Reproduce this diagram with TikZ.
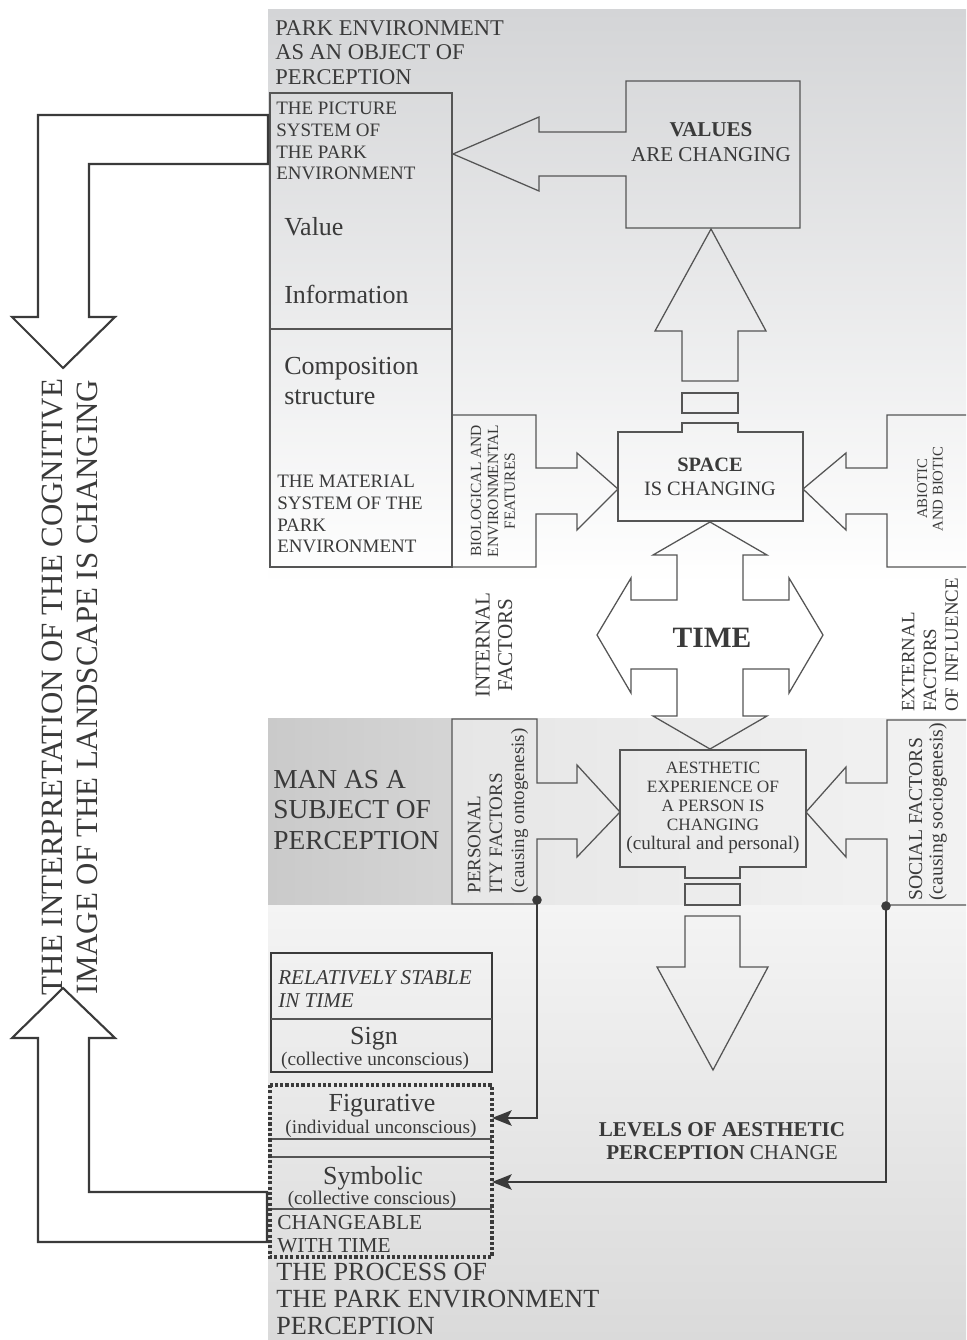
\documentclass[tikz,border=0pt]{standalone}
\usepackage{fontspec}
\setmainfont{Liberation Serif}
\usetikzlibrary{arrows.meta}
\newcommand\setfs[2]{\fontsize{#1}{#2}\selectfont}
\definecolor{ink}{HTML}{3A3A3A}
\definecolor{edge}{HTML}{555555}
\definecolor{bgtop}{HTML}{D4D5D7}
\definecolor{bgband}{HTML}{E6E6E6}
\definecolor{bgman}{HTML}{CACACA}
\definecolor{bgbottom}{HTML}{DADADA}
\begin{document}
\begin{tikzpicture}[x=0.025cm, y=-0.025cm,
  box/.style={draw=edge, line width=0.9pt},
  heavy/.style={draw=ink, line width=1.5pt},
  txt/.style={inner sep=0pt, text=ink},
  link/.style={draw=ink, line width=1.4pt, -{Stealth[length=14pt,width=11pt,inset=3pt]}}]
\useasboundingbox (0,0) rectangle (966,1340);
% background
\shade[top color=bgtop, bottom color=white] (268,10) rectangle (966,585);
\fill[white] (268,585) rectangle (966,718);
\shade[left color=bgband, right color=bgband!50!white] (452,718) rectangle (966,905);
\shade[left color=bgman, right color=bgman!80!white] (268,718) rectangle (452,905);
\shade[top color=bgbottom!30!white, bottom color=bgbottom] (268,905) rectangle (966,1340);

% park environment column
\draw[box] (270,93) rectangle (452,567);
\draw[box] (270,329) -- (452,329);

% values box with arrow to the left
\draw[box] (626,81) -- (800,81) -- (800,228) -- (626,228) -- (626,176) -- (539,176)
  -- (539,191) -- (453,154) -- (539,117) -- (539,132) -- (626,132) -- cycle;
\draw[box] (682,381) -- (682,331) -- (655,331) -- (711,229) -- (766,331) -- (738,331)
  -- (738,381) -- cycle;
\draw[box] (682,393) rectangle (738,413);

% space box
\draw[box] (618,432) -- (682,432) -- (682,423) -- (738,423) -- (738,432) -- (803,432)
  -- (803,521) -- (618,521) -- cycle;
\draw[box] (452,415) -- (536,415) -- (536,468) -- (577,468) -- (577,453) -- (618,489)
  -- (577,530) -- (577,514) -- (536,514) -- (536,567) -- (452,567);
\draw[box] (966,415) -- (887,415) -- (887,468) -- (846,468) -- (846,453) -- (803,489)
  -- (846,530) -- (846,514) -- (887,514) -- (887,567) -- (966,567);

% time
\draw[box] (710,522) -- (653,555) -- (677,555) -- (677,600) -- (631,600) -- (631,578)
  -- (597,635) -- (631,693) -- (631,669) -- (677,669) -- (677,716) -- (653,716)
  -- (710,749) -- (767,716) -- (743,716) -- (743,669) -- (789,669) -- (789,693)
  -- (823,635) -- (789,578) -- (789,600) -- (743,600) -- (743,555) -- (767,555) -- cycle;

% aesthetic experience box
\draw[box] (620,750) -- (806,750) -- (806,867) -- (740,867) -- (740,878) -- (685,878)
  -- (685,867) -- (620,867) -- cycle;
\draw[box] (452,719) -- (537,719) -- (537,783) -- (577,783) -- (577,765) -- (620,812)
  -- (577,857) -- (577,839) -- (537,839) -- (537,904) -- (452,904) -- cycle;
\draw[box] (966,720) -- (887,720) -- (887,783) -- (846,783) -- (846,767) -- (806,812)
  -- (846,857) -- (846,839) -- (887,839) -- (887,905) -- (966,905);
\draw[box] (685,884) rectangle (740,905);
\draw[box] (685,916) -- (740,916) -- (740,967) -- (768,967) -- (713,1070) -- (657,967)
  -- (685,967) -- cycle;

% levels of perception
\draw[draw=ink, line width=1.7pt] (271,953) rectangle (492,1072);
\draw[box] (271,1019) -- (492,1019);
\draw[box] (270,1139) -- (492,1139);
\draw[box] (270,1157) -- (492,1157);
\draw[box] (270,1209) -- (492,1209);
\draw[draw=ink, line width=2.2pt, dash pattern=on 2.2pt off 1.6pt] (270,1085) rectangle (492,1257);

% big return arrow
\draw[heavy] (268,115) -- (38,115) -- (38,317) -- (12,317) -- (63,368) -- (115,317)
  -- (89,317) -- (89,164) -- (268,164) -- cycle;
\draw[heavy] (267,1192) -- (89,1192) -- (89,1038) -- (115,1038) -- (63,988) -- (12,1038)
  -- (38,1038) -- (38,1242) -- (267,1242) -- cycle;

% texts
\node[txt, anchor=north west, align=left, font=\setfs{16}{17.4}] (objtitle) at (275,20)
  {PARK ENVIRONMENT\\AS AN OBJECT OF\\PERCEPTION};
\node[txt, anchor=north west, align=left, font=\setfs{13.5}{15.4}] (picsys) at (276,102)
  {THE PICTURE\\SYSTEM OF\\THE PARK\\ENVIRONMENT};
\node[txt, anchor=west, font=\setfs{18.5}{22}] (value) at (284,227) {Value};
\node[txt, anchor=west, font=\setfs{18.5}{22}] (info) at (284,294) {Information};
\node[txt, anchor=west, align=left, font=\setfs{18.5}{22}] (compos) at (284,381)
  {Composition\\structure};
\node[txt, anchor=north west, align=left, font=\setfs{13.5}{15.4}] (matsys) at (277,475)
  {THE MATERIAL\\SYSTEM OF THE\\PARK\\ENVIRONMENT};
\node[txt, align=center, font=\setfs{15}{17.7}] (values) at (711,142)
  {\textbf{VALUES}\\ARE CHANGING};
\node[txt, align=center, font=\setfs{14.5}{17}] (space) at (710,477)
  {\textbf{SPACE}\\IS CHANGING};
\node[txt, font=\setfs{21}{24}\bfseries] (time) at (712,638) {TIME};
\node[txt, align=center, font=\setfs{12.3}{13.5}] (aesth) at (713,808)
  {AESTHETIC\\EXPERIENCE OF\\A PERSON IS\\CHANGING\\{\setfs{13.6}{15}(cultural and personal)}};
\node[txt, anchor=west, align=left, font=\setfs{19.5}{22}] (man) at (273,810)
  {MAN AS A\\SUBJECT OF\\PERCEPTION};
\node[txt, align=center, font=\setfs{15}{16.3}] (levels) at (722,1141)
  {\textbf{LEVELS OF AESTHETIC}\\\textbf{PERCEPTION} CHANGE};

\node[txt, rotate=90, align=center, font=\setfs{22}{25}] (interp) at (70,687)
  {THE INTERPRETATION OF THE COGNITIVE\\IMAGE OF THE LANDSCAPE IS CHANGING};
\node[txt, rotate=90, align=center, font=\setfs{11}{12}] (bio) at (493,491)
  {BIOLOGICAL AND\\ENVIRONMENTAL\\FEATURES};
\node[txt, rotate=90, align=center, font=\setfs{10.5}{11}] (abio) at (930,489)
  {ABIOTIC\\AND BIOTIC};
\node[txt, rotate=90, align=center, font=\setfs{15}{16}] (internal) at (494,645)
  {INTERNAL\\FACTORS};
\node[txt, rotate=90, align=left, font=\setfs{13.4}{15.4}] (external) at (930,645)
  {EXTERNAL\\FACTORS\\OF INFLUENCE};
\node[txt, rotate=90, align=left, font=\setfs{13.5}{15.5}] (personal) at (498,811)
  {PERSONAL\\ITY FACTORS\\(causing ontogenesis)};
\node[txt, rotate=90, align=left, font=\setfs{14}{14.5}] (social) at (928,812)
  {SOCIAL FACTORS\\(causing sociogenesis)};

\node[txt, anchor=north west, align=left, font=\setfs{15}{16.3}\itshape] (stable) at (278,970)
  {RELATIVELY STABLE\\IN TIME};
\node[txt, font=\setfs{18.5}{22}] (sign) at (374,1039) {Sign};
\node[txt, font=\setfs{13.7}{15}] (signsub) at (375,1061) {(collective unconscious)};
\node[txt, font=\setfs{18.5}{22}] (figur) at (382,1106) {Figurative};
\node[txt, font=\setfs{13.7}{15}] (figursub) at (381,1129) {(individual unconscious)};
\node[txt, font=\setfs{18.5}{22}] (symb) at (373,1178) {Symbolic};
\node[txt, font=\setfs{13.7}{15}] (symbsub) at (372,1200) {(collective conscious)};
\node[txt, anchor=north west, align=left, font=\setfs{15.2}{16.3}] (changeable) at (277,1215)
  {CHANGEABLE\\WITH TIME};
\node[txt, anchor=north west, align=left, font=\setfs{18.6}{19.3}] (process) at (276,1263)
  {THE PROCESS OF\\THE PARK ENVIRONMENT\\PERCEPTION};

% links to the levels
\coordinate (pdot) at (537,900);
\coordinate (sdot) at (886,906);
\coordinate (figin) at (492,1118);
\coordinate (symin) at (492,1182);
\draw[link] (pdot) |- (figin);
\draw[link] (sdot) |- (symin);
\fill[ink] (pdot) circle (3.4pt);
\fill[ink] (sdot) circle (3.4pt);
\end{tikzpicture}
\end{document}
